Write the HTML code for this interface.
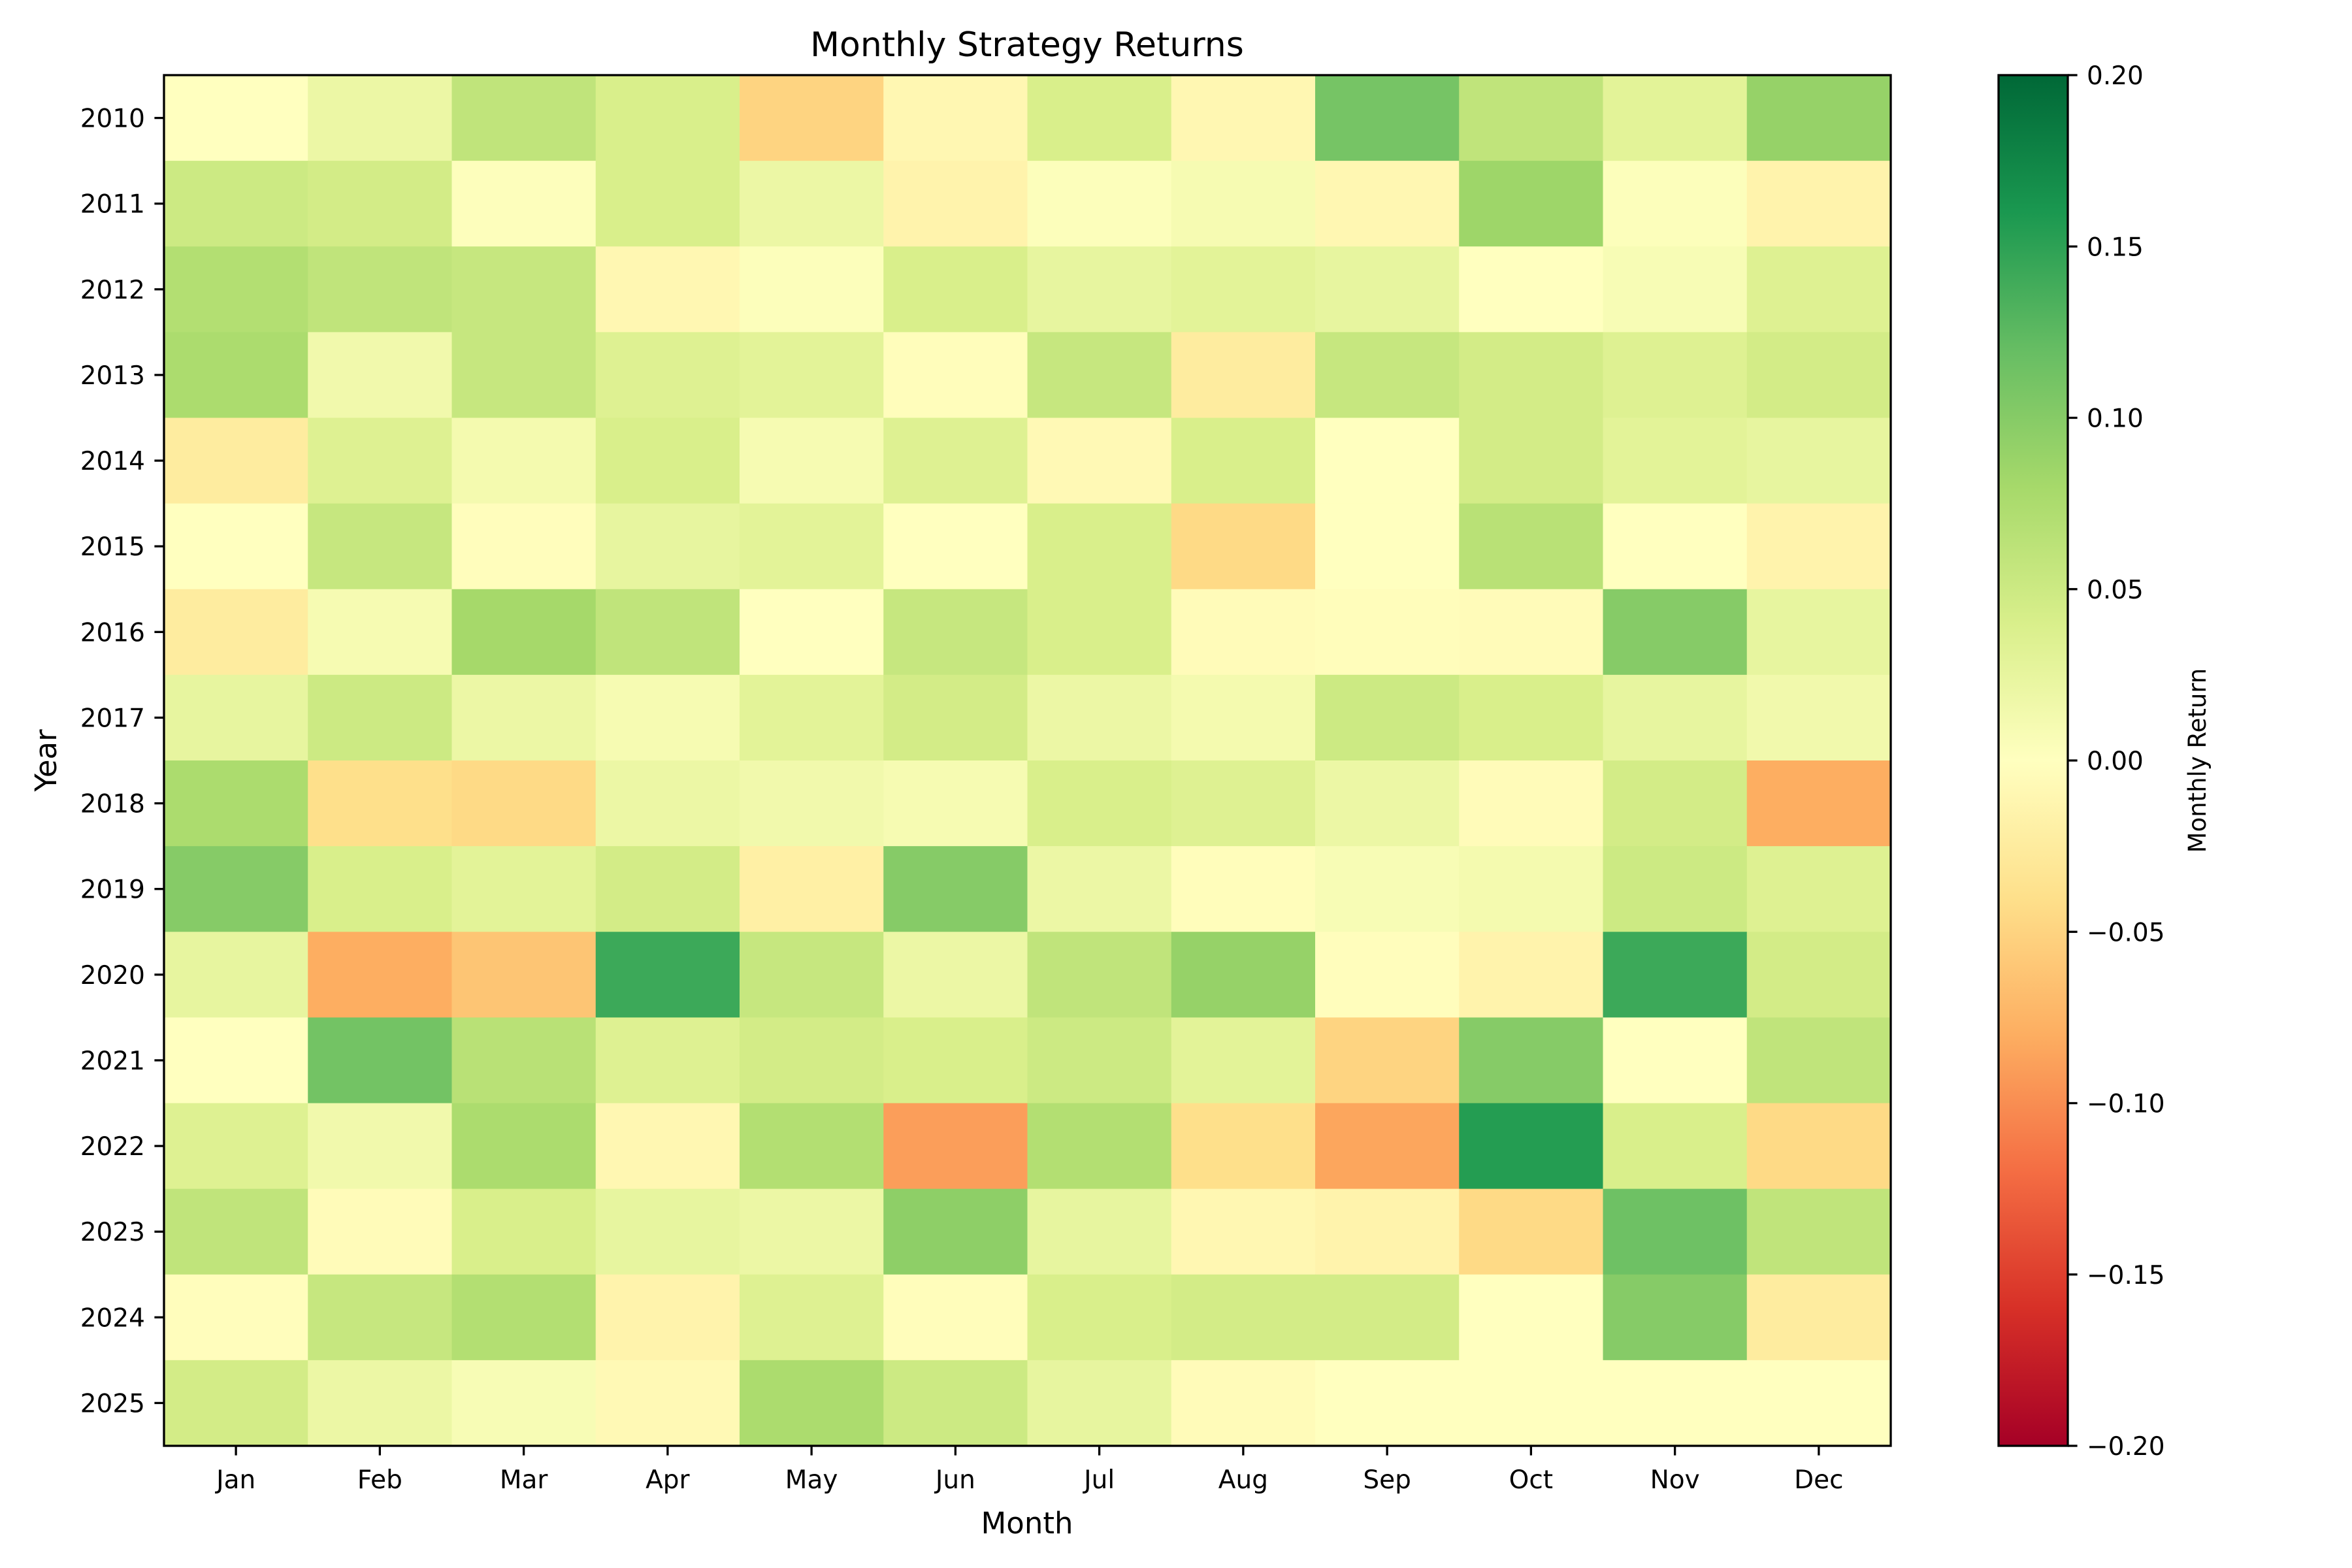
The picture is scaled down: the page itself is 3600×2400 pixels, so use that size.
<!DOCTYPE html>
<html><head><meta charset="utf-8"><style>
html,body{margin:0;padding:0;background:#fff;}
svg{display:block;font-family:"DejaVu Sans","Liberation Sans",sans-serif;}
</style></head><body>
<svg id="chart" width="3600" height="2400" viewBox="0 0 3600 2400" xmlns="http://www.w3.org/2000/svg">
<rect width="3600" height="2400" fill="#fff"/>
<defs>
<linearGradient id="cbgrad" x1="0" y1="1" x2="0" y2="0">
<stop offset="0" stop-color="#a50026"/><stop offset="0.1" stop-color="#d73027"/><stop offset="0.2" stop-color="#f46d43"/><stop offset="0.3" stop-color="#fdae61"/><stop offset="0.4" stop-color="#fee08b"/><stop offset="0.5" stop-color="#ffffbf"/><stop offset="0.6" stop-color="#d9ef8b"/><stop offset="0.7" stop-color="#a6d96a"/><stop offset="0.8" stop-color="#66bd63"/><stop offset="0.9" stop-color="#1a9850"/><stop offset="1" stop-color="#006837"/>
</linearGradient>
</defs>
<text x="1572" y="86" font-size="52" text-anchor="middle">Monthly Strategy Returns</text>
<g id="cells"></g>
<g id="axes"></g>
<text x="1572" y="2347" font-size="45" text-anchor="middle">Month</text>
<text x="86" y="1164" font-size="45" text-anchor="middle" transform="rotate(-90 86 1164)">Year</text>
<rect x="3059" y="115" width="106" height="2098" fill="url(#cbgrad)" stroke="#000" stroke-width="3.3"/>
<g id="cbaxis"></g>
<text x="3376" y="1164" font-size="37" text-anchor="middle" transform="rotate(-90 3376 1164)">Monthly Return</text>
</svg>
<script>
const months = ["Jan","Feb","Mar","Apr","May","Jun","Jul","Aug","Sep","Oct","Nov","Dec"];
const years = ["2010","2011","2012","2013","2014","2015","2016","2017","2018","2019","2020","2021","2022","2023","2024","2025"];
const r2010 = [0.00,0.02,0.06,0.04,-0.05,-0.01,0.04,-0.01,0.11,0.06,0.03,0.09];
const r2011 = [0.05,0.045,0.002,0.04,0.02,-0.015,0.003,0.01,-0.01,0.085,0.003,-0.015];
const r2012 = [0.07,0.06,0.055,-0.01,0.003,0.04,0.025,0.03,0.025,0.0,0.008,0.035];
const r2013 = [0.075,0.015,0.055,0.035,0.03,-0.003,0.055,-0.025,0.055,0.045,0.035,0.045];
const r2014 = [-0.025,0.035,0.012,0.04,0.01,0.035,-0.008,0.04,0.0,0.045,0.03,0.025];
const r2015 = [0.0,0.055,-0.002,0.025,0.03,0.0,0.04,-0.045,0.0,0.065,0.0,-0.015];
const r2016 = [-0.025,0.01,0.08,0.06,0.0,0.055,0.04,-0.005,-0.003,-0.005,0.1,0.025];
const r2017 = [0.025,0.05,0.02,0.01,0.03,0.045,0.02,0.012,0.05,0.04,0.025,0.015];
const r2018 = [0.075,-0.04,-0.045,0.02,0.015,0.01,0.04,0.035,0.02,-0.005,0.045,-0.08];
const r2019 = [0.1,0.04,0.03,0.045,-0.02,0.1,0.02,-0.003,0.008,0.012,0.05,0.035];
const r2020 = [0.025,-0.08,-0.062,0.142,0.055,0.02,0.06,0.09,-0.002,-0.015,0.142,0.045];
const r2021 = [0.0,0.112,0.065,0.035,0.045,0.04,0.05,0.03,-0.05,0.1,0.0,0.06];
const r2022 = [0.035,0.015,0.075,-0.01,0.07,-0.09,0.07,-0.04,-0.085,0.155,0.04,-0.045];
const r2023 = [0.06,-0.005,0.04,0.025,0.02,0.095,0.025,-0.01,-0.015,-0.045,0.115,0.06];
const r2024 = [-0.002,0.055,0.07,-0.015,0.035,-0.003,0.04,0.045,0.045,0.0,0.1,-0.025];
const r2025 = [0.045,0.02,0.008,-0.008,0.075,0.05,0.025,-0.005,0,0,0,0];
const rows = [r2010,r2011,r2012,r2013,r2014,r2015,r2016,r2017,r2018,r2019,r2020,r2021,r2022,r2023,r2024,r2025];
const cbTicks = [0.20,0.15,0.10,0.05,0.00,-0.05,-0.10,-0.15,-0.20];

const NS="http://www.w3.org/2000/svg";
const L=251,R=2894,T=115,B=2213;
const vmin=-0.2,vmax=0.2;
const cw=(R-L)/months.length, ch=(B-T)/years.length;
const xPos=i=>L+i*cw, yPos=j=>T+j*ch;
const cbY=v=>B-(v-vmin)/(vmax-vmin)*(B-T);
const stops=["#a50026","#d73027","#f46d43","#fdae61","#fee08b","#ffffbf","#d9ef8b","#a6d96a","#66bd63","#1a9850","#006837"].map(h=>[parseInt(h.substr(1,2),16),parseInt(h.substr(3,2),16),parseInt(h.substr(5,2),16)]);
function cmap(v){let t=(v-vmin)/(vmax-vmin);t=Math.max(0,Math.min(1,t))*10;let i=Math.min(9,Math.floor(t));let f=t-i;const a=stops[i],b=stops[i+1];return "rgb("+a.map((c,k)=>Math.round(c+(b[k]-c)*f)).join(",")+")";}
function mk(tag,attrs,parent){const e=document.createElementNS(NS,tag);for(const k in attrs)e.setAttribute(k,attrs[k]);parent.appendChild(e);return e;}
const cells=document.getElementById('cells');
rows.forEach((row,j)=>row.forEach((v,i)=>{
  const r=mk('rect',{x:xPos(i),y:yPos(j),width:cw+0.6,height:ch+0.6,fill:cmap(v)},cells);
  
  
}));
const ax=document.getElementById('axes');
const frame=mk('rect',{x:L,y:T,width:R-L,height:B-T,fill:'none',stroke:'#000','stroke-width':3.3},ax);


months.forEach((m,i)=>{
  const cx=xPos(i)+cw/2;
  mk('line',{x1:cx,y1:B,x2:cx,y2:B+14.6,stroke:'#000','stroke-width':3.3},ax);
  const t=mk('text',{x:cx,y:2278,'font-size':39,'text-anchor':'middle'},ax);
  t.textContent=m;
  
  
});
years.forEach((y,j)=>{
  const cy=yPos(j)+ch/2;
  mk('line',{x1:L,y1:cy,x2:L-14.6,y2:cy,stroke:'#000','stroke-width':3.3},ax);
  const t=mk('text',{x:L-29,y:cy+14,'font-size':39,'text-anchor':'end'},ax);
  t.textContent=y;
  
  
});
const cb=document.getElementById('cbaxis');
cbTicks.forEach(v=>{
  const y=cbY(v);
  mk('line',{x1:3165,y1:y,x2:3179.6,y2:y,stroke:'#000','stroke-width':3.3},cb);
  const t=mk('text',{x:3194,y:y+14,'font-size':39},cb);
  t.textContent=(v<0?'\u2212':'')+Math.abs(v).toFixed(2);
  
  
});
</script>
</body></html>
